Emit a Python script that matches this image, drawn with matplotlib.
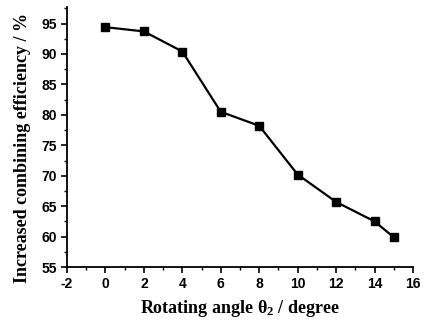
import numpy as np
import matplotlib.pyplot as plt
from matplotlib.ticker import MultipleLocator

angle = [0, 2, 4, 6, 8, 10, 12, 14, 15]
efficiency = [94.4, 93.7, 90.4, 80.5, 78.2, 70.2, 65.7, 62.5, 59.9]

plt.rcParams['axes.unicode_minus'] = False
plt.rcParams['mathtext.fontset'] = 'custom'
plt.rcParams['mathtext.rm'] = 'Liberation Serif:bold'
plt.rcParams['mathtext.it'] = 'Liberation Serif:bold'
plt.rcParams['mathtext.bf'] = 'Liberation Serif:bold'

fig = plt.figure(figsize=(4.24, 3.21), dpi=100)
ax = fig.add_axes([0.158, 0.168, 0.816, 0.81])

ax.plot(angle, efficiency, color='black', lw=1.6, marker='s', ms=6)

ax.set_xlim(-2, 16)
ax.set_ylim(55, 97.7)
ax.xaxis.set_major_locator(MultipleLocator(2))
ax.xaxis.set_minor_locator(MultipleLocator(1))
ax.yaxis.set_major_locator(MultipleLocator(5))
ax.yaxis.set_minor_locator(MultipleLocator(2.5))

for side in ['top', 'right']:
    ax.spines[side].set_visible(False)
for side in ['left', 'bottom']:
    ax.spines[side].set_linewidth(1.3)

ax.tick_params(which='major', direction='out', length=4, width=1.2, pad=3)
ax.tick_params(which='minor', direction='out', length=2.5, width=1.0)
for lbl in ax.get_xticklabels() + ax.get_yticklabels():
    lbl.set_fontfamily('Liberation Sans')
    lbl.set_fontweight('bold')
    lbl.set_fontsize(10)

ax.set_xlabel(r'Rotating angle θ$_2$ / degree', fontfamily='Liberation Serif',
              fontweight='bold', fontsize=13, labelpad=5)
ax.set_ylabel('Increased combining efficiency / %', fontfamily='Liberation Serif',
              fontweight='bold', fontsize=13, labelpad=6)
ax.yaxis.set_label_coords(-0.105, 0.46)

fig.savefig('out.png', dpi=100)
